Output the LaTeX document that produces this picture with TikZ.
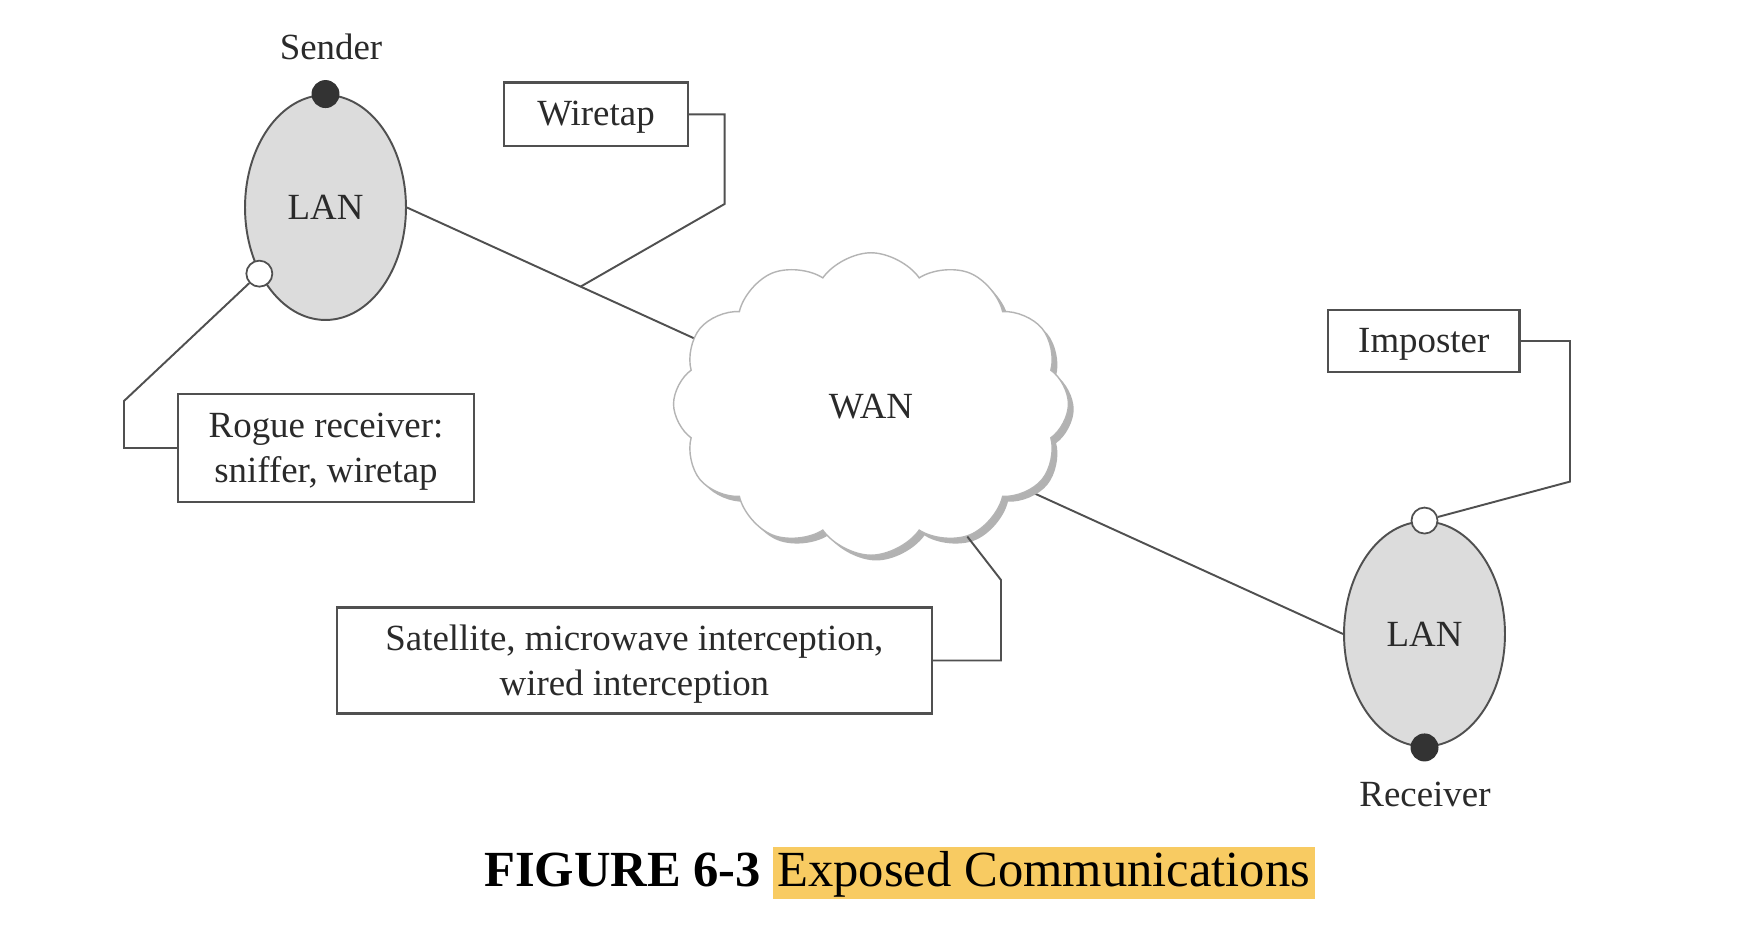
\documentclass[tikz,border=0pt]{standalone}
\usepackage{fontspec}
\setmainfont{Liberation Serif}
\usetikzlibrary{shapes.geometric,shapes.symbols,shadows,calc}
\definecolor{lanfill}{HTML}{DCDCDC}
\definecolor{edge}{HTML}{505050}
\definecolor{dotc}{HTML}{333333}
\definecolor{hl}{HTML}{F8CB62}
\definecolor{cloudline}{HTML}{B4B4B4}
\definecolor{txt}{HTML}{2A2A2A}
\newcommand\lowerbox[2][1.9pt]{\raisebox{-#1}[\height][\depth]{#2}}
\newcommand\twolines[2]{\lowerbox{\begin{tabular}{@{}c@{}}#1\\#2\end{tabular}}}
\begin{document}
\begin{tikzpicture}[x=0.02cm,y=-0.02cm,
  lbl/.style={font=\fontsize{21}{25.4}\selectfont, text=txt},
  lan/.style={ellipse, draw=edge, fill=lanfill, line width=1.1pt, minimum width=3.22cm, minimum height=4.5cm, inner sep=0pt, lbl},
  box/.style={draw=edge, line width=1.2pt, inner sep=0pt, align=center, lbl},
  wire/.style={draw=edge, line width=1.1pt},
  blackdot/.style={circle, fill=dotc, minimum size=0.56cm, inner sep=0pt},
  whitedot/.style={circle, draw=edge, fill=white, line width=1pt, minimum size=0.52cm, inner sep=0pt},
  capfont/.style={font=\fontsize{28.8}{34}\selectfont}
]
\fill[white] (0,0) rectangle (1748,952);
\useasboundingbox (0,0) rectangle (1748,952);

\node[lan] (lanL) at (325.5,207.5) {LAN};
\node[lan] (lanR) at (1424.5,634) {LAN};
\draw[wire] (lanL.east) -- (lanR.west);
\coordinate (tap) at ($(lanL.east)!0.1855!(lanR.west)$);

\node[cloud, cloud puffs=12, cloud puff arc=110, aspect=1.3, draw=cloudline, fill=white, line width=0.8pt,
      minimum width=7.9cm, minimum height=6.05cm, inner sep=0pt,
      drop shadow={shadow xshift=3pt, shadow yshift=-3pt, fill=black!30, opacity=1}, lbl] (wan) at (871,404) {\lowerbox[1.3pt]{WAN}};

\node[blackdot] (snd) at (lanL.north) {};
\node[whitedot] (wc1) at (lanL.-135) {};
\node[whitedot] (wc2) at (lanR.north) {};
\node[blackdot] (rcv) at (lanR.south) {};

\node[lbl] (sender) at (331,47) {Sender};
\node[lbl] (receiver) at (1425,794) {Receiver};

\node[box, minimum width=3.68cm, minimum height=1.27cm] (wiretap) at (596,114.3) {\lowerbox{Wiretap}};
\node[box, minimum width=5.92cm, minimum height=2.17cm] (rogue) at (326,448) {\twolines{Rogue receiver:}{sniffer, wiretap}};
\node[box, minimum width=11.9cm, minimum height=2.12cm] (sat) at (634.4,660.5) {\twolines{Satellite, microwave interception,}{wired interception}};
\node[box, minimum width=3.83cm, minimum height=1.24cm] (imp) at (1423.8,341) {\lowerbox{Imposter}};

\draw[wire] (wiretap.east) -| (724.6,204) -- (tap);
\draw[wire] (wc1) -- (124,401) |- (rogue.west);
\draw[wire] (wan.-54) -- (1001,580) |- (sat.east);
\draw[wire] (imp.east) -| (1570,481.6) -- (wc2);

\node[capfont, font=\fontsize{28.8}{34}\selectfont\bfseries, anchor=base east, inner sep=0pt] (figno) at (761.5,886) {FIGURE 6-3};
\node[capfont, fill=hl, anchor=base west, inner xsep=0.09cm, inner ysep=0pt, text height=0.78cm, text depth=0.25cm] (ctitle) at (772.5,886) {Exposed Communications};
\end{tikzpicture}
\end{document}
